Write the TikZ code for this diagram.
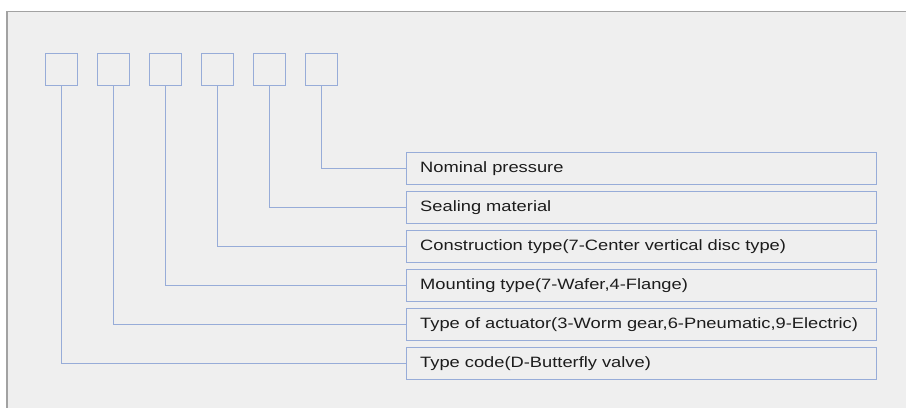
\documentclass[tikz,border=0pt]{standalone}
\usepackage{fontspec}
\setmainfont{Liberation Sans}[FakeStretch=1.22]

\definecolor{framegray}{HTML}{A2A2A2}
\definecolor{paper}{HTML}{EFEFEF}
\definecolor{boxblue}{HTML}{97ACD8}
\definecolor{ink}{HTML}{1C1C1C}

\tikzset{
  codebox/.style={draw=boxblue, line width=1pt, minimum width=32pt, minimum height=32pt, inner sep=0pt},
  descbox/.style={draw=boxblue, line width=1pt, anchor=north west, minimum width=470pt, minimum height=31.5pt,
    text width=442pt, inner xsep=14pt, inner ysep=0pt, align=left, text=ink, font=\fontsize{15}{18}\selectfont},
  link/.style={draw=boxblue, line width=1pt}
}

\begin{document}
\begin{tikzpicture}[x=1pt, y=-1pt]
    % Page and frame
    \useasboundingbox (0,0) rectangle (906,408);
    \fill[paper] (7,11.5) rectangle (906,408);
    \draw[framegray, line width=1.5pt] (906,11.5) -- (7,11.5) -- (7,408);

    % Code positions (empty boxes)
    \foreach \i in {1, 2, 3, 4, 5, 6} {
        \node[codebox] (c\i) at ({9+52*\i}, 69) {};
    }

    % Meaning of each position
    \node[descbox] (d6) at (405.7,152) {Nominal pressure};
    \node[descbox] (d5) at (405.7,191) {Sealing material};
    \node[descbox] (d4) at (405.7,230) {Construction type(7-Center vertical disc type)};
    \node[descbox] (d3) at (405.7,269) {Mounting type(7-Wafer,4-Flange)};
    \node[descbox] (d2) at (405.7,308) {Type of actuator(3-Worm gear,6-Pneumatic,9-Electric)};
    \node[descbox] (d1) at (405.7,347) {Type code(D-Butterfly valve)};

    % Leader lines
    \foreach \i in {1, 2, 3, 4, 5, 6} {
        \draw[link] (c\i.south) |- (d\i.west);
    }
\end{tikzpicture}
\end{document}
